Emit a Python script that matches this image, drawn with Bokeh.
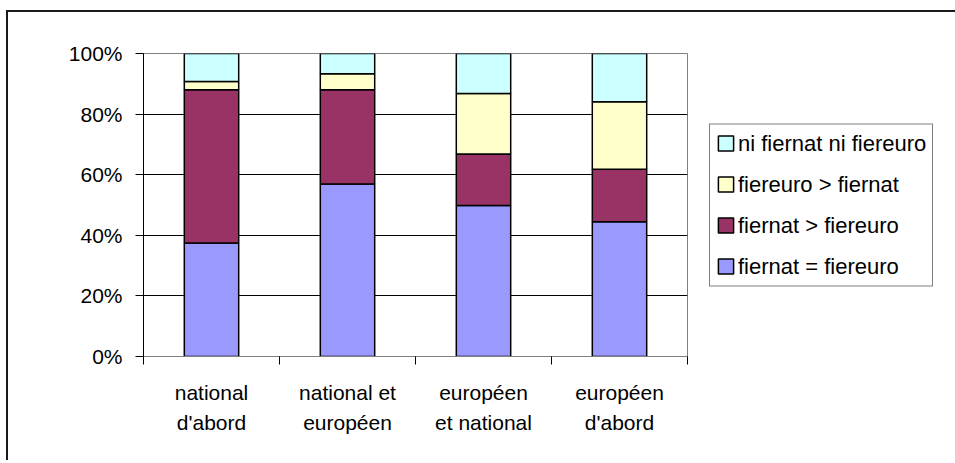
from bokeh.plotting import figure
from bokeh.models import (ColumnDataSource, FactorRange, Range1d, LinearAxis,
                          FixedTicker, PrintfTickFormatter, Legend, LegendItem)
from bokeh.embed import file_html
from bokeh.resources import INLINE

categories = ["national\nd'abord", "national et\neuropéen", "européen\net national", "européen\nd'abord"]
egal = [37.5, 56.9, 49.8, 44.5]        # fiernat = fiereuro
nat_sup = [50.5, 31.1, 17.0, 17.3]     # fiernat > fiereuro
euro_sup = [2.8, 5.3, 20.0, 22.3]      # fiereuro > fiernat
ni = [9.2, 6.7, 13.2, 15.9]            # ni fiernat ni fiereuro
series_keys = ["egal", "nat_sup", "euro_sup", "ni"]
series_labels = ["fiernat = fiereuro", "fiernat > fiereuro", "fiereuro > fiernat", "ni fiernat ni fiereuro"]
colors = ["#9999FF", "#993366", "#FFFFCC", "#CCFFFF"]
y_ticks = [0, 20, 40, 60, 80, 100]

FONT = "Liberation Sans"

source = ColumnDataSource(dict(cat=categories, egal=egal, nat_sup=nat_sup, euro_sup=euro_sup, ni=ni))

p = figure(x_range=FactorRange(factors=categories), y_range=Range1d(0, 100),
           frame_width=544, frame_height=303, output_backend="svg", toolbar_location=None,
           x_axis_location=None, min_border_left=135, min_border_top=41,
           min_border_right=268, min_border_bottom=104)
p.margin = (10, 0, 0, 6)
p.styles = {"border-left": "2px solid #1a1a1a", "border-top": "2px solid #1a1a1a",
            "border-right": "0px none", "border-bottom": "0px none", "outline": "none"}

renderers = p.vbar_stack(series_keys, x="cat", width=0.4, fill_color=colors,
                         line_color="black", line_width=1.5, source=source)

# y axis
p.yaxis.ticker = FixedTicker(ticks=y_ticks)
p.yaxis.formatter = PrintfTickFormatter(format="%d%%")
p.yaxis.major_tick_out = 8
p.yaxis.major_tick_in = 0
p.yaxis.minor_tick_out = 0
p.yaxis.minor_tick_in = 0
p.yaxis.axis_line_color = "black"
p.yaxis.major_tick_line_color = "black"
p.yaxis.major_label_text_font = FONT
p.yaxis.major_label_text_font_size = "21px"
p.yaxis.major_label_text_color = "black"
p.yaxis.major_label_standoff = 13

# grids
p.ygrid.ticker = FixedTicker(ticks=[20, 40, 60, 80])
p.ygrid.grid_line_color = "black"
p.ygrid.grid_line_width = 1
p.xgrid.visible = False
p.outline_line_color = "#808080"
p.outline_line_width = 1

# x axis: labels at category centres, tick marks at category boundaries
n = len(categories)
centres = [i + 0.5 for i in range(n)]
x_axis = LinearAxis(ticker=FixedTicker(ticks=centres, minor_ticks=list(range(n + 1))),
                    major_label_overrides={c: lab for c, lab in zip(centres, categories)},
                    major_tick_out=0, major_tick_in=0, minor_tick_out=8, minor_tick_in=0,
                    minor_tick_line_color="black", axis_line_color="#808080",
                    major_label_text_font=FONT, major_label_text_font_size="21px",
                    major_label_text_color="black", major_label_text_line_height=1.33,
                    major_label_standoff=16)
p.add_layout(x_axis, "below")

items = [LegendItem(label=series_labels[i], renderers=[renderers[i]]) for i in range(3, -1, -1)]
legend = Legend(items=items, location="left", orientation="vertical",
                glyph_width=19, glyph_height=19, label_height=19, spacing=15, padding=6,
                label_standoff=3, margin=22,
                label_text_font=FONT, label_text_font_size="22px", label_text_color="black",
                border_line_color="black", border_line_width=1, background_fill_color="white",
                background_fill_alpha=1)
p.add_layout(legend, "right")

open("out.html", "w").write(file_html(p, INLINE))
